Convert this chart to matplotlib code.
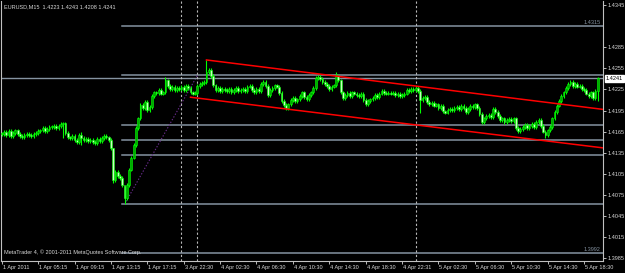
import matplotlib
matplotlib.use("Agg")
import matplotlib.pyplot as plt
import matplotlib.transforms as mtransforms

# ---------------- data (EURUSD M15 closes) ----------------
first_open = 1.4162
close = [
    1.4162, 1.4165, 1.4160, 1.4166, 1.4159, 1.4163, 1.4167, 1.4162, 1.4159, 1.4157,
    1.4160, 1.4162, 1.4160, 1.4159, 1.4162, 1.4163, 1.4166, 1.4167, 1.4170, 1.4166,
    1.4169, 1.4172, 1.4172, 1.4173, 1.4170, 1.4173, 1.4176, 1.4177, 1.4163, 1.4157,
    1.4156, 1.4159, 1.4153, 1.4150, 1.4160, 1.4156, 1.4153, 1.4155, 1.4152, 1.4153,
    1.4150, 1.4149, 1.4155, 1.4152, 1.4156, 1.4159, 1.4157, 1.4153, 1.4142, 1.4096,
    1.4108, 1.4102, 1.4099, 1.4089, 1.4071, 1.4089, 1.4111, 1.4128, 1.4146, 1.4170,
    1.4184, 1.4203, 1.4199, 1.4207, 1.4196, 1.4200, 1.4216, 1.4221, 1.4220, 1.4224,
    1.4219, 1.4221, 1.4238, 1.4230, 1.4226, 1.4229, 1.4224, 1.4227, 1.4226, 1.4229,
    1.4224, 1.4230, 1.4227, 1.4221, 1.4219, 1.4220, 1.4230, 1.4233, 1.4234, 1.4236,
    1.4250, 1.4253, 1.4244, 1.4231, 1.4224, 1.4227, 1.4223, 1.4226, 1.4224, 1.4223,
    1.4226, 1.4221, 1.4224, 1.4227, 1.4223, 1.4224, 1.4226, 1.4223, 1.4229, 1.4230,
    1.4224, 1.4221, 1.4226, 1.4223, 1.4233, 1.4236, 1.4230, 1.4217, 1.4224, 1.4227,
    1.4231, 1.4229, 1.4220, 1.4209, 1.4203, 1.4199, 1.4204, 1.4210, 1.4213, 1.4209,
    1.4211, 1.4216, 1.4221, 1.4214, 1.4211, 1.4217, 1.4221, 1.4227, 1.4241, 1.4243,
    1.4240, 1.4236, 1.4233, 1.4230, 1.4226, 1.4229, 1.4231, 1.4244, 1.4238, 1.4221,
    1.4213, 1.4217, 1.4220, 1.4216, 1.4221, 1.4219, 1.4217, 1.4216, 1.4219, 1.4210,
    1.4204, 1.4209, 1.4211, 1.4213, 1.4217, 1.4214, 1.4219, 1.4223, 1.4220, 1.4219,
    1.4220, 1.4219, 1.4220, 1.4217, 1.4219, 1.4216, 1.4217, 1.4219, 1.4224, 1.4223,
    1.4226, 1.4224, 1.4227, 1.4223, 1.4210, 1.4213, 1.4214, 1.4207, 1.4204, 1.4206,
    1.4202, 1.4204, 1.4199, 1.4202, 1.4194, 1.4192, 1.4196, 1.4197, 1.4196, 1.4199,
    1.4200, 1.4197, 1.4202, 1.4199, 1.4193, 1.4197, 1.4202, 1.4200, 1.4204, 1.4199,
    1.4190, 1.4179, 1.4184, 1.4187, 1.4189, 1.4186, 1.4197, 1.4193, 1.4187, 1.4182,
    1.4184, 1.4179, 1.4182, 1.4183, 1.4180, 1.4184, 1.4170, 1.4166, 1.4169, 1.4172,
    1.4175, 1.4170, 1.4173, 1.4176, 1.4172, 1.4179, 1.4182, 1.4173, 1.4165, 1.4160,
    1.4167, 1.4172, 1.4184, 1.4193, 1.4202, 1.4209, 1.4216, 1.4221, 1.4227, 1.4233,
    1.4236, 1.4230, 1.4233, 1.4229, 1.4230, 1.4226, 1.4224, 1.4219, 1.4216, 1.4221,
    1.4213, 1.4223, 1.4241,
]
spike_high = {27: 1.4179, 35: 1.4165, 49: 1.4142, 54: 1.4088, 72: 1.4243,
              90: 1.4267, 116: 1.4238, 147: 1.4250, 262: 1.4243}
spike_low = {27: 1.4156, 35: 1.4146, 49: 1.4092, 54: 1.4062, 184: 1.4192,
             239: 1.4156, 262: 1.4208}

xtick_bars = [0, 16, 32, 48, 64, 80, 96, 112, 128, 144, 160, 176, 192, 208, 224, 240, 256]
xtick_labels = ["1 Apr 2011", "1 Apr 05:15", "1 Apr 09:15", "1 Apr 13:15", "1 Apr 17:15",
                "3 Apr 22:30", "4 Apr 02:30", "4 Apr 06:30", "4 Apr 10:30", "4 Apr 14:30",
                "4 Apr 18:30", "4 Apr 22:31", "5 Apr 02:30", "5 Apr 06:30", "5 Apr 10:30",
                "5 Apr 14:30", "5 Apr 18:30"]
ytick_prices = [1.3985, 1.4015, 1.4045, 1.4075, 1.4105, 1.4135, 1.4165, 1.4195,
                1.4225, 1.4255, 1.4285, 1.4345]

separators = [79, 86, 182]
fib_start_bar, fib_end_bar = 54, 86
fib_low, fib_high = 1.4062, 1.4245
fib_ratios = [-0.382, 0.0, 0.382, 0.5, 0.618, 1.0, 1.382]
fib_labels = {1.382: "1.4315", -0.382: "1.3992"}
chan_upper = [(90, 1.4267), (219, 1.4215)]
chan_lower = [(83, 1.4214), (219, 1.4160)]
bid = 1.4241
title = "EURUSD,M15  1.4223 1.4243 1.4208 1.4241"
copyright_txt = "MetaTrader 4, \u00a9 2001-2011 MetaQuotes Software Corp."

# ---------------- style ----------------
FONT = ["Liberation Sans", "DejaVu Sans"]
plt.rcParams["font.family"] = FONT
FG = "#d8d8d8"
GRAYLINE = "#8593a1"
FS = 4.0

fig = plt.figure(figsize=(6.25, 2.73), dpi=100, facecolor="black")
ax = fig.add_axes([1 / 625, 12 / 273, 601.5 / 625, 260 / 273])
ax.set_facecolor("black")

XMIN, XMAX = -0.31, 264.1
YMIN, YMAX = 1.39812, 1.43508
ax.set_xlim(XMIN, XMAX)
ax.set_ylim(YMIN, YMAX)

# fib levels
for r in fib_ratios:
    p = fib_low + (fib_high - fib_low) * r
    ax.plot([fib_start_bar - 1, XMAX], [p, p], color=GRAYLINE, lw=1.1, zorder=1)
    if r in fib_labels:
        ax.text(XMAX - 0.8, p + 0.00012, fib_labels[r], color=GRAYLINE, fontsize=FS,
                ha="right", va="bottom", zorder=5)
ax.plot([fib_start_bar, fib_end_bar], [fib_low, fib_high], color="#6b2d8f",
        lw=0.8, linestyle=(0, (1.2, 1.6)), zorder=1)

# bid line
ax.axhline(bid, color=GRAYLINE, lw=1.0, zorder=1)

# period separators
for s in separators:
    ax.axvline(s, color="#b8b8b8", lw=0.8, linestyle=(0, (2, 2)), zorder=1)

# candles
opens = [first_open] + close[:-1]
xs = list(range(len(close)))
wick = 0.00025
highs, lows, bott, hts, fills = [], [], [], [], []
for i, (o, c) in enumerate(zip(opens, close)):
    highs.append(spike_high.get(i, max(o, c) + wick))
    lows.append(spike_low.get(i, min(o, c) - wick))
    bott.append(min(o, c))
    hts.append(max(abs(c - o), 0.00006))
    fills.append("#00a800" if c >= o else "#c8ffc0")
ax.vlines(xs, lows, highs, color="#00ff00", lw=0.8, zorder=3)
ax.bar(xs, hts, bottom=bott, width=0.78, color=fills, edgecolor="#00ff00",
       linewidth=0.4, zorder=4)

# channel lines (rays to the right)
for (x1, p1), (x2, p2) in (chan_upper, chan_lower):
    slope = (p2 - p1) / (x2 - x1)
    ax.plot([x1, XMAX], [p1, p1 + slope * (XMAX - x1)], color="#ff0000", lw=1.1, zorder=5)

# axes styling
for sp in ax.spines.values():
    sp.set_color("#c0c0c0")
    sp.set_linewidth(0.8)
ax.spines["top"].set_visible(False)
ax.yaxis.tick_right()
ax.set_yticks(ytick_prices)
ax.set_yticklabels([f"{p:.4f}" for p in ytick_prices])
ax.set_xticks(xtick_bars)
ax.set_xticklabels(xtick_labels, ha="left")
ax.tick_params(axis="y", colors=FG, labelsize=FS, length=2.5, width=0.6, pad=1.0)
ax.tick_params(axis="x", colors=FG, labelsize=FS, length=2.0, width=0.6, pad=1.0)
for lab in ax.get_xticklabels():
    lab.set_transform(lab.get_transform() + mtransforms.ScaledTranslation(1 / 100, 0, fig.dpi_scale_trans))

# current price box
trans = mtransforms.blended_transform_factory(ax.transAxes, ax.transData)
ax.text(1.005, bid, f"{bid:.4f}", transform=trans, fontsize=FS, color="black",
        ha="left", va="center", clip_on=False, zorder=10,
        bbox=dict(boxstyle="square,pad=0.15", facecolor="white", edgecolor="white"))

# texts
ax.text(3 / 601.5, 1 - 6 / 260, title, transform=ax.transAxes, color=FG,
        fontsize=FS, ha="left", va="center")
ax.text(3 / 601.5, 9 / 260, copyright_txt, transform=ax.transAxes, color=FG,
        fontsize=FS, ha="left", va="center")

fig.savefig("out.png", dpi=100, facecolor="black")
